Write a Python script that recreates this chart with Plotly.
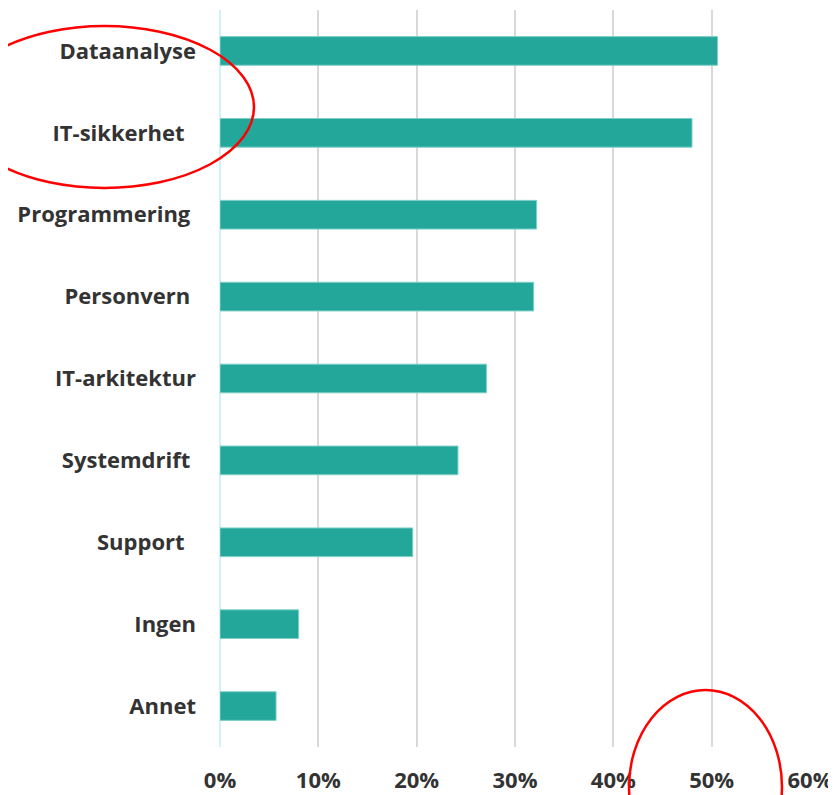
import plotly.graph_objects as go

categories = ["Dataanalyse", "IT-sikkerhet", "Programmering", "Personvern", "IT-arkitektur",
              "Systemdrift", "Support", "Ingen", "Annet"]
tick_text = ["Dataanalyse", "IT-sikkerhet  ", "Programmering ", "Personvern ", "IT-arkitektur",
             "Systemdrift ", "Support  ", "Ingen", "Annet"]
values = [0.506, 0.480, 0.322, 0.319, 0.271, 0.242, 0.196, 0.080, 0.057]
x_ticks = [0, 0.1, 0.2, 0.3, 0.4, 0.5, 0.6]
x_tick_labels = ["0%", "10%", "20%", "30%", "40%", "50%", "60%"]

W, H = 836, 795
OFF = 8  # page body margin
# target plot area in screen pixels
PL, PR, PT, PB = 220, 810, 10, 747
L, T = PL - OFF, PT - OFF
R = W + OFF - PR
B = H + OFF - PB
pw, ph = PR - PL, PB - PT

def px(x):
    return (x - PL) / pw

def py(y):
    return 1 - (y - PT) / ph

fig = go.Figure(go.Bar(
    y=categories, x=values, orientation="h", width=0.35,
    marker=dict(color="#24a79b", line=dict(color="#7fd0c6", width=1)),
))

fig.update_layout(
    width=W, height=H,
    margin=dict(l=L, r=R, t=T, b=B),
    plot_bgcolor="white", paper_bgcolor="white",
    showlegend=False,
    font=dict(family="Open Sans", size=22, color="#333333"),
)
fig.update_xaxes(
    range=[0, 0.6], tickvals=x_ticks, ticktext=x_tick_labels,
    showgrid=True, gridcolor="#d9d9d9", gridwidth=2,
    zeroline=True, zerolinecolor="#cdf3fb", zerolinewidth=2,
    tickfont=dict(family="Open Sans", size=22, color="#333333", weight="bold"),
    ticks="", ticklabelstandoff=18,
)
fig.update_yaxes(
    categoryorder="array", categoryarray=categories, autorange="reversed",
    tickvals=categories, ticktext=tick_text,
    tickfont=dict(family="Open Sans", size=22, color="#333333", weight="bold"),
    ticks="", ticklabelstandoff=23, showgrid=False,
)

# Red ellipse highlights
fig.add_shape(type="circle", xref="paper", yref="paper",
              x0=px(-45), x1=px(254), y0=py(26), y1=py(188),
              line=dict(color="#ff0000", width=2.5))
fig.add_shape(type="circle", xref="paper", yref="paper",
              x0=px(629), x1=px(782), y0=py(690), y1=py(884),
              line=dict(color="#ff0000", width=2.5))

fig.write_html("out.html")
